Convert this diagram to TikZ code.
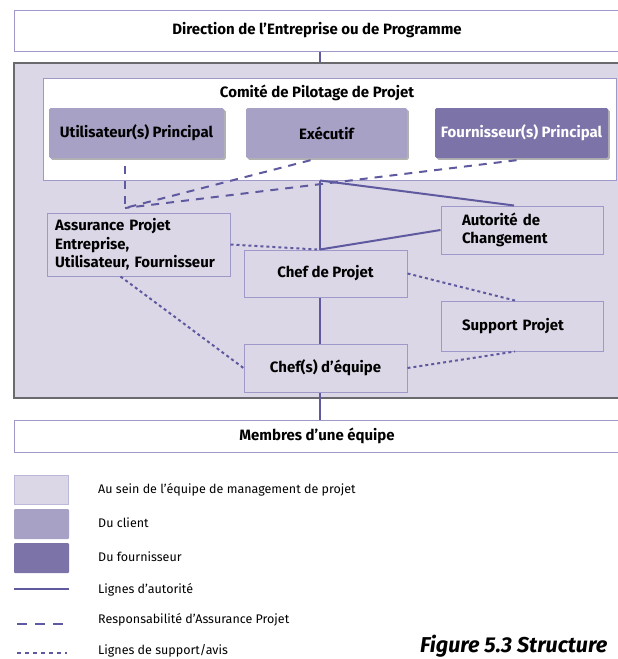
\documentclass[tikz,border=0pt]{standalone}
\usepackage{fontspec}
\setmainfont{Fira Sans}
\usetikzlibrary{calc, positioning, shadows}
\definecolor{teamfill}{RGB}{219,215,230}
\definecolor{clientfill}{RGB}{168,161,198}
\definecolor{supplierfill}{RGB}{124,115,168}
\definecolor{boxline}{RGB}{158,153,200}
\definecolor{linecol}{RGB}{95,90,160}
\definecolor{frameline}{RGB}{105,105,110}

\begin{document}
\begin{tikzpicture}[x=1pt, y=-1pt,
  every node/.style={font=\bfseries\fontsize{15}{18.5}\selectfont, inner sep=0pt},
  banner/.style={draw=boxline, fill=white, line width=1pt},
  teambox/.style={draw=boxline, fill=teamfill, line width=1pt},
  boardbox/.style={rounded corners=1.5pt, minimum height=50,
    drop shadow={shadow xshift=1.8pt, shadow yshift=-1.8pt, fill=black!55, opacity=.55}},
  leftbox/.style={teambox, align=left},
  authority/.style={draw=linecol, line width=2pt},
  assurance/.style={draw=linecol, line width=2pt, dash pattern=on 8pt off 7pt},
  support/.style={draw=linecol, line width=2pt, dash pattern=on 3pt off 3pt},
  legendtext/.style={anchor=west, font=\fontsize{12.5}{14}\selectfont}
]
\useasboundingbox (0,0) rectangle (618,659);
\clip (0,0) rectangle (618,659);

% bandeaux hors equipe
\node[banner, minimum width=606, minimum height=41] (dir) at (317,30.5)
  {Direction de l'Entreprise ou de Programme};
\node[draw=frameline, fill=teamfill, line width=1.6pt, minimum width=620, minimum height=335]
  (pmt) at (324,230.5) {};
\node[banner, minimum width=606, minimum height=32] (membres) at (317,436)
  {Membres d'une équipe};

% comite de pilotage
\node[banner, minimum width=573, minimum height=102] (comite) at (329.5,129) {};
\node (comitetitle) at (317,93) {Comité de Pilotage de Projet};
\node[boardbox, fill=clientfill, minimum width=175] (util) at (136.5,133) {Utilisateur(s) Principal};
\node[boardbox, fill=clientfill, minimum width=161] (exec) at (326.5,133) {Exécutif};
\node[boardbox, fill=supplierfill, text=white, minimum width=173] (four) at (521.5,133)
  {Fournisseur(s) Principal};

% equipe de management de projet
\node[leftbox, text width=167, inner xsep=8, minimum height=63] (assur) at (138.5,244.5)
  {Assurance Projet\\Entreprise,\\Utilisateur, Fournisseur};
\node[leftbox, text width=120, inner xsep=21, minimum height=48] (autor) at (522,230)
  {Autorité de\\Changement};
\node[teambox, minimum width=163, minimum height=47] (chefp) at (325.5,273.5) {Chef de Projet};
\node[leftbox, text width=120, inner xsep=21, minimum height=50] (support) at (522,326)
  {Support Projet};
\node[teambox, minimum width=163, minimum height=48] (chefe) at (325.5,368) {Chef(s) d'équipe};

\coordinate (spine) at (320,0);
\coordinate (apjoin) at (125,208);

% lignes d'autorite
\draw[authority] (dir.south -| spine) -- (pmt.north -| spine);
\draw[authority] (comite.south -| spine) -- (chefp.north -| spine);
\draw[authority] (comite.south -| spine) -- ($(autor.north)+(-8,0)$);
\draw[authority] (autor.west) -- (chefp.north -| spine);
\draw[authority] (chefp.south -| spine) -- (chefe.north -| spine);
\draw[authority] (chefe.south -| spine) -- (membres.north -| spine);

% assurance projet
\draw[assurance] ($(util.south -| apjoin)+(0,8)$) -- (apjoin);
\draw[assurance] ($(exec.south)+(-16,2)$) -- (apjoin);
\draw[assurance] ($(four.south)+(-5,2)$) -- (apjoin);

% support / avis
\draw[support] (assur.east) -- ($(chefp.north -| spine)+(-3,0)$);
\draw[support] (chefp.east) -- ($(support.north)+(-7,0)$);
\draw[support] (chefe.east) -- ($(support.south)+(-7,0)$);
\draw[support] ($(assur.south)+(-18,0)$) -- (chefe.west);

% legende
\node[draw=boxline!70, fill=teamfill, line width=1.5pt, minimum width=54, minimum height=29]
  (swteam) at (41.5,490) {};
\node[fill=clientfill, rounded corners=1pt, minimum width=55, minimum height=30]
  (swclient) at (41.5,524) {};
\node[fill=supplierfill, rounded corners=1pt, minimum width=55, minimum height=30]
  (swsupplier) at (41.5,558) {};
\draw[authority] (14,589) -- (69,589);
\draw[linecol, line width=2pt, dash pattern=on 10pt off 8pt] (17,624) -- (65,624);
\draw[linecol, line width=2pt, dash pattern=on 4pt off 4pt] (17,653) -- (67,653);
\node[legendtext] (lteam) at (98,490) {Au sein de l'équipe de management de projet};
\node[legendtext] (lclient) at (98,523) {Du client};
\node[legendtext] (lsupplier) at (98,557) {Du fournisseur};
\node[legendtext] (lauth) at (98,590) {Lignes d'autorité};
\node[legendtext] (lassur) at (98,620) {Responsabilité d'Assurance Projet};
\node[legendtext] (lsupport) at (98,651) {Lignes de support/avis};

\node[anchor=west, font=\bfseries\itshape\fontsize{21.5}{24}\selectfont] (caption) at (420,646)
  {Figure 5.3 Structure};
\end{tikzpicture}
\end{document}
